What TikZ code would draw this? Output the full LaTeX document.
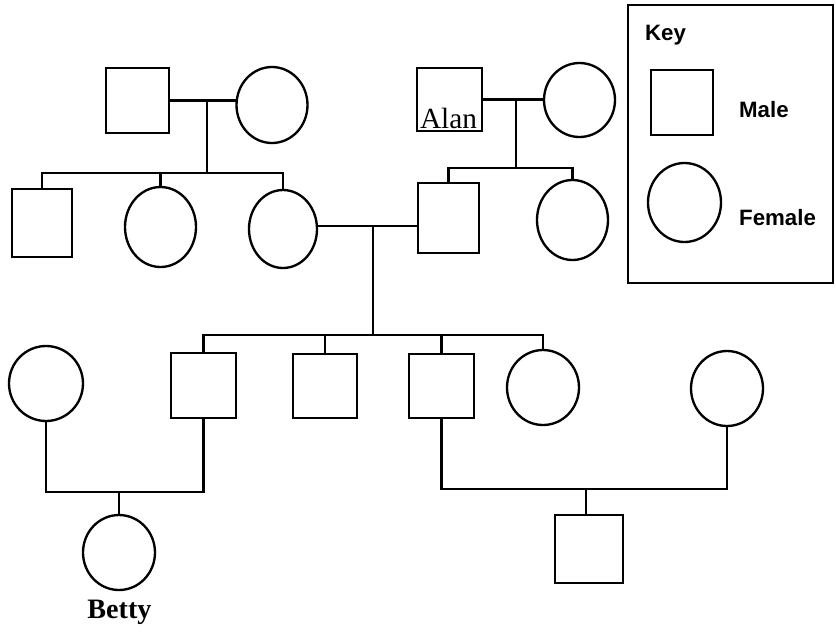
\documentclass[tikz,border=0pt]{standalone}
\usepackage{fontspec}
\setmainfont{Liberation Serif}
\setsansfont{Liberation Sans}
\usetikzlibrary{shapes.geometric}
\begin{document}
\begin{tikzpicture}[x=0.03cm,y=-0.03cm,line width=2pt,
  male/.style={draw, rectangle, inner sep=0pt, outer sep=0pt},
  female/.style={draw, ellipse, inner sep=0pt, outer sep=0pt},
  sz/.style 2 args={minimum width=#1*0.03cm, minimum height=#2*0.03cm},
  namelbl/.style={inner sep=0pt, anchor=base, font=\fontsize{25}{30}\selectfont},
  keylbl/.style={inner sep=0pt, anchor=base west, font=\sffamily\bfseries\fontsize{19}{23}\selectfont}]
\useasboundingbox (0,0) rectangle (836,631);

% generation 1
\node[male, sz={63}{65}] (A) at (137.5,100.5) {};
\node[female, sz={71}{76}] (B) at (272,105) {};
\node[male, sz={65}{63}] (Al) at (449.5,99.5) {};
\node[female, sz={71}{74}] (W) at (579.5,100) {};
\node[namelbl] (alanlbl) at (448.5,128) {Alan};

% generation 2
\node[male, sz={60}{68}] (C) at (42,223) {};
\node[female, sz={71}{80}] (D) at (160.5,227) {};
\node[female, sz={68}{78}] (E) at (283,229) {};
\node[male, sz={61}{70}] (F) at (448.5,218) {};
\node[female, sz={71}{80}] (H) at (572.5,220) {};

% generation 3
\node[female, sz={74}{75}] (I) at (46,383.5) {};
\node[male, sz={65}{65}] (J) at (203.5,385.5) {};
\node[male, sz={64}{64}] (K) at (325,386) {};
\node[male, sz={65}{64}] (L) at (441.5,386) {};
\node[female, sz={72}{75}] (M) at (543,387.5) {};
\node[female, sz={72}{75}] (N) at (727,388.5) {};

% generation 4
\node[female, sz={72}{75}] (Be) at (119,552.5) {};
\node[namelbl, font=\bfseries\fontsize{24}{29}\selectfont] (bettylbl) at (119.5,618) {Betty};
\node[male, sz={68}{68}] (O) at (589,549) {};

% key
\node[draw, rectangle, sz={205}{278}, inner sep=0pt] (keybox) at (730.5,144) {};
\node[keylbl] (keylbl) at (644,40) {Key};
\node[male, sz={62}{65}] (KM) at (682,102.5) {};
\node[female, sz={73}{79}] (KF) at (684.5,202.5) {};
\node[keylbl] (malelbl) at (738,117) {Male};
\node[keylbl] (femalelbl) at (738,225) {Female};

% couple A-B
\coordinate (mAB) at (207,100.5);
\coordinate (sAB) at (207,173);
\draw (A.east) -- (A.east -| B.west);
\draw (mAB) -- (sAB);
\draw (C.north) |- (sAB) -| (E.north);
\draw (D.north) -- (D.north |- sAB);

% couple Alan-W
\coordinate (mAW) at (516,100);
\coordinate (sAW) at (516,168);
\draw (Al.east) -- (Al.east -| W.west);
\draw (mAW) -- (sAW);
\draw (F.north) |- (sAW) -| (H.north);

% couple E-F
\coordinate (mEF) at (373,226);
\coordinate (sEF) at (373,335);
\draw (E.east |- mEF) -- (F.west |- mEF);
\draw (mEF) -- (sEF);
\draw (J.north) |- (sEF) -| (M.north);
\draw (K.north) -- (K.north |- sEF);
\draw (L.north) -- (L.north |- sEF);

% couple I-J
\coordinate (cIJ) at (119,492);
\draw (I.south) |- (cIJ) -| (J.south);
\draw (cIJ) -- (Be.north);

% couple L-N
\coordinate (cLN) at (586,489);
\draw (L.south) |- (cLN) -| (N.south);
\draw (cLN) -- (cLN |- O.north);
\end{tikzpicture}
\end{document}
